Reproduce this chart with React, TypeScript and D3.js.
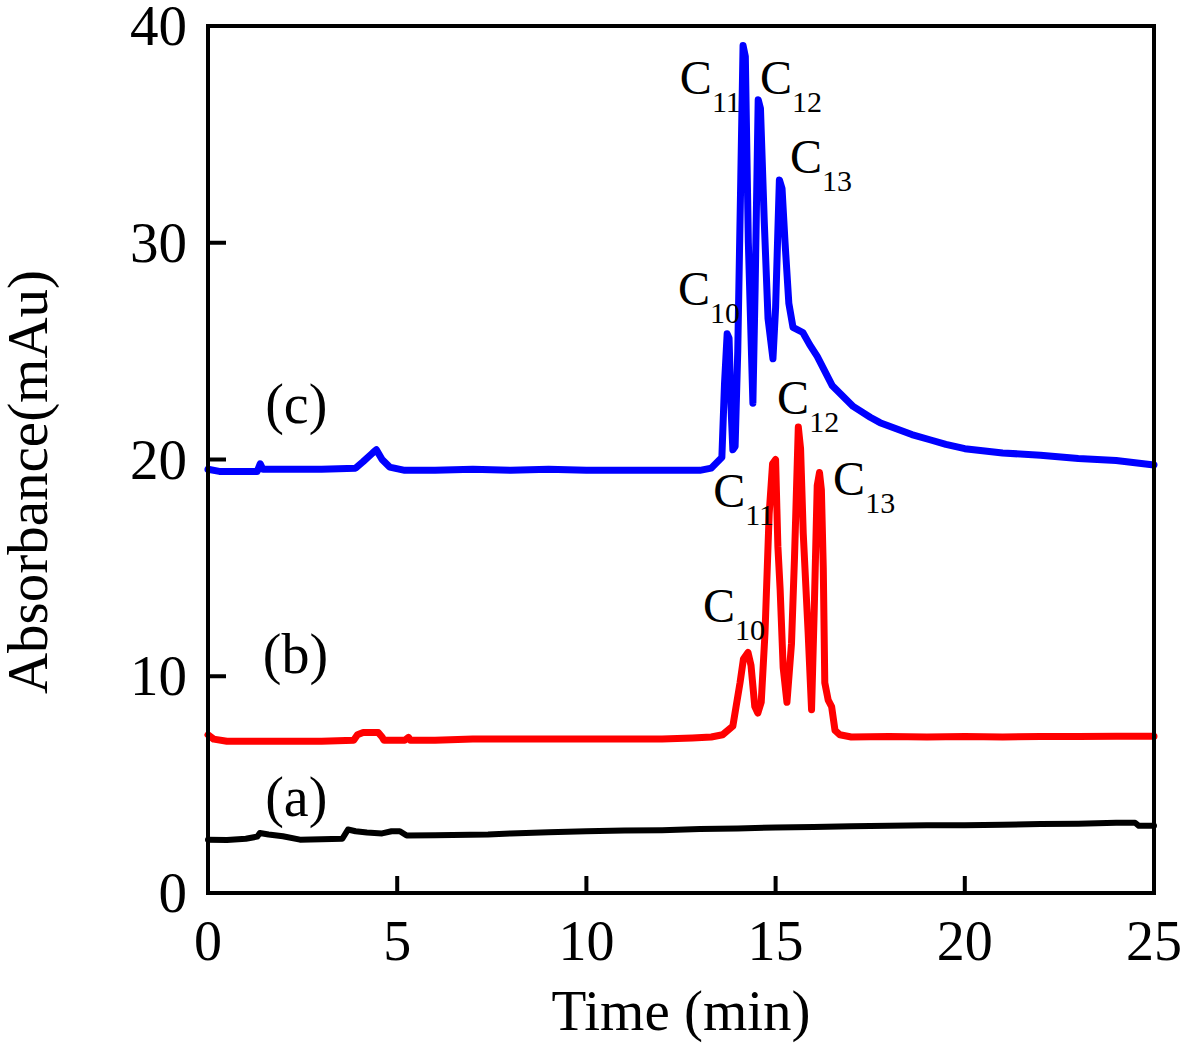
import React from "react";
import * as d3 from "d3";

// ---- data (Time in min, Absorbance in mAu) ----
const seriesA: [number, number][] = [
  [0, 2.46], [0.5, 2.45], [1.0, 2.5], [1.3, 2.6], [1.37, 2.77], [1.6, 2.7], [1.98, 2.62], [2.43, 2.46],
  [3.0, 2.48], [3.55, 2.5], [3.7, 2.93], [3.9, 2.85], [4.2, 2.79], [4.6, 2.75], [4.85, 2.85], [5.07, 2.85],
  [5.25, 2.65], [6, 2.66], [7.4, 2.7], [8, 2.75], [9, 2.8], [10, 2.85], [11, 2.88], [12, 2.9], [13, 2.95],
  [14, 2.98], [15, 3.02], [16, 3.05], [17, 3.08], [18, 3.1], [19, 3.12], [20, 3.13], [21, 3.15], [22, 3.18],
  [23, 3.2], [24, 3.24], [24.5, 3.24], [24.6, 3.1], [25, 3.1],
];

const seriesB: [number, number][] = [
  [0, 7.3], [0.15, 7.1], [0.5, 7.0], [1, 7.0], [2, 7.0], [3, 7.0], [3.85, 7.05], [3.95, 7.3], [4.1, 7.4],
  [4.5, 7.4], [4.6, 7.2], [4.65, 7.05], [5.2, 7.05], [5.3, 7.18], [5.35, 7.05], [6, 7.05], [7, 7.1], [8, 7.1],
  [9, 7.1], [10, 7.1], [11, 7.1], [12, 7.1], [12.8, 7.15], [13.3, 7.2], [13.6, 7.3], [13.87, 7.7], [14.06, 9.7],
  [14.15, 10.8], [14.27, 11.1], [14.35, 10.5], [14.45, 8.6], [14.53, 8.3], [14.62, 8.8], [14.72, 12.0],
  [14.83, 17.5], [14.92, 19.8], [15.0, 20.0], [15.06, 16.0], [15.12, 14.0], [15.2, 10.4], [15.3, 8.8], [15.42, 11.5],
  [15.5, 15.5], [15.6, 21.5], [15.66, 20.5], [15.73, 16.6], [15.86, 12.0], [15.95, 8.46], [16.02, 13.0],
  [16.1, 18.8], [16.16, 19.4], [16.21, 18.6], [16.26, 15.0], [16.3, 9.7], [16.39, 8.9], [16.48, 8.6],
  [16.57, 7.5], [16.7, 7.3], [17, 7.2], [18, 7.22], [19, 7.2], [20, 7.22], [21, 7.2], [22, 7.22], [23, 7.22],
  [24, 7.23], [25, 7.23],
];

const seriesC: [number, number][] = [
  [0, 19.55], [0.3, 19.45], [0.8, 19.45], [1.3, 19.45], [1.38, 19.8], [1.45, 19.55], [2.0, 19.55], [3.0, 19.55],
  [3.9, 19.6], [4.1, 19.9], [4.35, 20.3], [4.45, 20.45], [4.6, 20.0], [4.8, 19.65], [5.2, 19.5], [6, 19.5],
  [7, 19.55], [8, 19.5], [9, 19.55], [10, 19.5], [11, 19.5], [12, 19.5], [13, 19.5], [13.3, 19.6],
  [13.58, 20.1], [13.65, 23.5], [13.72, 25.8], [13.77, 25.6], [13.82, 22.5], [13.87, 20.45], [13.93, 20.6],
  [14.0, 25.0], [14.08, 33.0], [14.14, 39.1], [14.2, 38.6], [14.28, 30.0], [14.4, 22.6], [14.46, 28.0],
  [14.54, 36.6], [14.6, 36.2], [14.7, 31.0], [14.8, 26.5], [14.93, 24.65], [15.0, 27.0], [15.1, 32.9],
  [15.17, 32.5], [15.25, 30.0], [15.35, 27.2], [15.46, 26.1], [15.72, 25.86], [15.9, 25.3], [16.1, 24.76],
  [16.5, 23.4], [17.05, 22.45], [17.5, 21.95], [17.76, 21.7], [18.6, 21.15], [19.1, 20.9], [19.5, 20.7],
  [20, 20.5], [21, 20.3], [22, 20.2], [23, 20.05], [24, 19.95], [25, 19.75],
];

const xTicks = [0, 5, 10, 15, 20, 25];
const yTicks = [0, 10, 20, 30, 40];

const seriesLabels = [
  { text: "(c)", x: 1.51, y: 21.7 },
  { text: "(b)", x: 1.45, y: 10.17 },
  { text: "(a)", x: 1.51, y: 3.53 },
];

const peakLabels = [
  { sub: "11", x: 12.47, y: 36.84 },
  { sub: "12", x: 14.59, y: 36.84 },
  { sub: "13", x: 15.38, y: 33.24 },
  { sub: "10", x: 12.42, y: 27.15 },
  { sub: "12", x: 15.04, y: 22.08 },
  { sub: "13", x: 16.52, y: 18.38 },
  { sub: "11", x: 13.35, y: 17.83 },
  { sub: "10", x: 13.08, y: 12.48 },
];

const W = 1181;
const H = 1043;
const M = { left: 208, right: 1154, top: 26, bottom: 893 };
const FONT = "'Liberation Serif', 'Times New Roman', serif";

export default function App() {
  const x = d3.scaleLinear().domain([0, 25]).range([M.left, M.right]);
  const y = d3.scaleLinear().domain([0, 40]).range([M.bottom, M.top]);
  const line = d3
    .line<[number, number]>()
    .x((d) => x(d[0]))
    .y((d) => y(d[1]))
    .curve(d3.curveLinear);

  const series = [
    { data: seriesA, color: "#000000", w: 6 },
    { data: seriesB, color: "#ff0000", w: 7 },
    { data: seriesC, color: "#0000ff", w: 7 },
  ];

  return (
    <svg
      width={W}
      height={H}
      style={{ position: "absolute", left: 0, top: 0, background: "#fff" }}
      fontFamily={FONT}
    >
      <rect x={0} y={0} width={W} height={H} fill="#fff" />
      {series.map((s, i) => (
        <path
          key={i}
          d={line(s.data) || ""}
          fill="none"
          stroke={s.color}
          strokeWidth={s.w}
          strokeLinejoin="round"
          strokeLinecap="round"
        />
      ))}
      {/* frame */}
      <rect
        x={M.left}
        y={M.top}
        width={M.right - M.left}
        height={M.bottom - M.top}
        fill="none"
        stroke="#000"
        strokeWidth={4}
      />
      {/* x ticks */}
      {xTicks.map((t) => (
        <g key={"x" + t}>
          <line x1={x(t)} x2={x(t)} y1={M.bottom} y2={M.bottom - 17} stroke="#000" strokeWidth={4} />
          <text x={x(t)} y={960} textAnchor="middle" fontSize={56} fill="#000">
            {t}
          </text>
        </g>
      ))}
      {/* y ticks */}
      {yTicks.map((t) => (
        <g key={"y" + t}>
          <line x1={M.left} x2={M.left + 18} y1={y(t)} y2={y(t)} stroke="#000" strokeWidth={4} />
          <text x={187} y={y(t) + 19} textAnchor="end" fontSize={57} fill="#000">
            {t}
          </text>
        </g>
      ))}
      {/* axis titles */}
      <text x={(M.left + M.right) / 2} y={1030} textAnchor="middle" fontSize={57} fill="#000">
        Time (min)
      </text>
      <text
        transform={`translate(47, 482) rotate(-90)`}
        textAnchor="middle"
        fontSize={57}
        fill="#000"
      >
        Absorbance(mAu)
      </text>
      {/* series labels */}
      {seriesLabels.map((l, i) => (
        <text key={"s" + i} x={x(l.x)} y={y(l.y)} fontSize={56} fill="#000">
          {l.text}
        </text>
      ))}
      {/* peak labels */}
      {peakLabels.map((l, i) => (
        <text key={"p" + i} x={x(l.x)} y={y(l.y)} fontSize={48} fill="#000">
          C
          <tspan fontSize={30} dy={18}>
            {l.sub}
          </tspan>
        </text>
      ))}
    </svg>
  );
}
